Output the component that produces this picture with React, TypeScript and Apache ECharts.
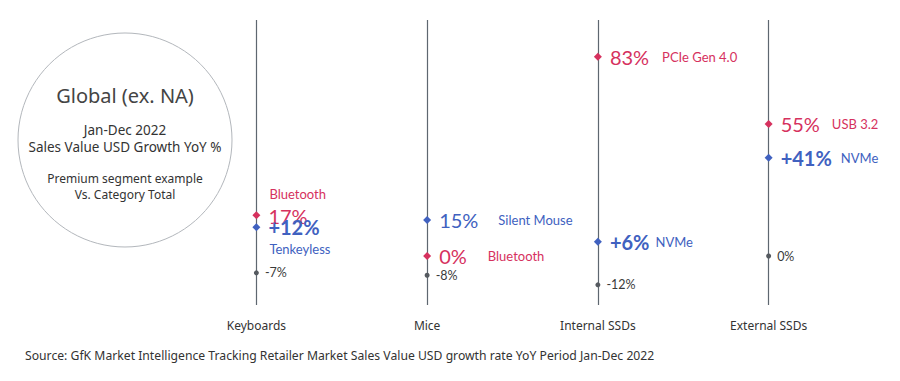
import React, { useEffect, useRef } from "react";
import * as echarts from "echarts";

const categories = ["Keyboards", "Mice", "Internal SSDs", "External SSDs"];
const premiumAValues = [17, 0, 83, 55];
const premiumANames = ["Bluetooth", "Bluetooth", "PCIe Gen 4.0", "USB 3.2"];
const premiumBValues = [12, 15, 6, 41];
const premiumBNames = ["Tenkeyless", "Silent Mouse", "NVMe", "NVMe"];
const premiumBSigned = [true, false, true, true];
const totalValues = [-7, -8, -12, 0];

const RED = "#d6315e";
const BLUE = "#4061c0";
const GRAY = "#555a60";
const FONT = "Lato, 'Noto Sans', sans-serif";

// label layout styling (not data)
const gapA = [0, 21, 13, 12];
const gapB = [0, 20, 6, 9];

export default function App() {
  const ref = useRef<HTMLDivElement>(null);
  useEffect(() => {
    const chart = echarts.init(ref.current!, null, { renderer: "svg" });

    const fmtPct = (v: number, signed: boolean) => (signed && v > 0 ? "+" : "") + v + "%";

    const redData = premiumAValues.map((v, i) => {
      const first = i === 0;
      return {
        value: [categories[i], v],
        label: {
          show: true,
          position: "right",
          distance: 8,
          offset: first ? [0, -10] : [0, 0],
          formatter: first
            ? `{n|${premiumANames[i]}}\n{v|${fmtPct(v, false)}}`
            : `{v|${fmtPct(v, false)}}{n|${premiumANames[i]}}`,
          rich: {
            v: { fontSize: 20, color: RED, fontFamily: FONT, lineHeight: 22 },
            n: {
              fontSize: 13,
              color: RED,
              fontFamily: FONT,
              lineHeight: 22,
              padding: first ? [0, 0, 0, 1] : [0, 0, 0, gapA[i]],
            },
          },
        },
      };
    });

    const blueData = premiumBValues.map((v, i) => {
      const first = i === 0;
      const bold = premiumBSigned[i];
      return {
        value: [categories[i], v],
        label: {
          show: true,
          position: "right",
          distance: 8,
          offset: first ? [0, 11] : [0, 0],
          formatter: first
            ? `{v|${fmtPct(v, bold)}}\n{n|${premiumBNames[i]}}`
            : `{v|${fmtPct(v, bold)}}{n|${premiumBNames[i]}}`,
          rich: {
            v: {
              fontSize: 20,
              color: BLUE,
              fontFamily: FONT,
              fontWeight: bold ? "bold" : "normal",
              lineHeight: 22,
            },
            n: {
              fontSize: 13,
              color: BLUE,
              fontFamily: FONT,
              lineHeight: 22,
              padding: first ? [0, 0, 0, 1] : [0, 0, 0, gapB[i]],
            },
          },
        },
      };
    });

    const totalData = totalValues.map((v, i) => ({ value: [categories[i], v] }));

    chart.setOption({
      animation: false,
      grid: { left: 171, right: 46, top: 20, bottom: 76 },
      xAxis: {
        type: "category",
        data: categories,
        boundaryGap: true,
        axisLine: { show: false },
        axisTick: { show: false },
        splitLine: { show: false },
        axisLabel: { margin: 14, fontSize: 12, color: "#333", fontFamily: "'Noto Sans', sans-serif" },
      },
      yAxis: {
        type: "value",
        min: -20.4,
        max: 98.35,
        show: false,
        splitLine: { show: false },
      },
      series: [
        {
          name: "Category Total",
          type: "scatter",
          symbol: "circle",
          symbolSize: 5,
          itemStyle: { color: GRAY, opacity: 1 },
          data: totalData,
          z: 3,
          label: {
            show: true,
            position: "right",
            distance: 6,
            formatter: (p: any) => p.value[1] + "%",
            fontSize: 12.5,
            color: "#3a3a3a",
            fontFamily: FONT,
          },
          markLine: {
            silent: true,
            symbol: ["none", "none"],
            label: { show: false },
            lineStyle: { color: "#5e6770", width: 1.2, type: "solid", opacity: 1 },
            data: categories.map((c) => ({ xAxis: c })),
            z: 1,
          },
        },
        {
          name: "Premium A",
          type: "scatter",
          symbol: "diamond",
          symbolSize: 8,
          itemStyle: { color: RED, opacity: 1 },
          data: redData,
          z: 4,
        },
        {
          name: "Premium B",
          type: "scatter",
          symbol: "diamond",
          symbolSize: 8,
          itemStyle: { color: BLUE, opacity: 1 },
          data: blueData,
          z: 5,
        },
      ],
      graphic: [
        {
          type: "circle",
          shape: { cx: 125, cy: 140, r: 107 },
          style: { fill: "none", stroke: "#b3b7bc", lineWidth: 1 },
          silent: true,
        },
        {
          type: "text",
          x: 125,
          y: 95,
          style: {
            text: "Global (ex. NA)",
            fontSize: 20,
            fill: "#444",
            fontFamily: "'Noto Sans', sans-serif",
            align: "center",
            verticalAlign: "middle",
          },
        },
        {
          type: "text",
          x: 125,
          y: 130,
          style: {
            text: "Jan-Dec 2022",
            fontSize: 13.5,
            fill: "#333",
            fontFamily: "'Noto Sans', sans-serif",
            align: "center",
            verticalAlign: "middle",
          },
        },
        {
          type: "text",
          x: 125,
          y: 147,
          style: {
            text: "Sales Value USD Growth YoY %",
            fontSize: 13.5,
            fill: "#333",
            fontFamily: "'Noto Sans', sans-serif",
            align: "center",
            verticalAlign: "middle",
          },
        },
        {
          type: "text",
          x: 125,
          y: 178,
          style: {
            text: "Premium segment example",
            fontSize: 12,
            fill: "#333",
            fontFamily: "'Noto Sans', sans-serif",
            align: "center",
            verticalAlign: "middle",
          },
        },
        {
          type: "text",
          x: 125,
          y: 194,
          style: {
            text: "Vs. Category Total",
            fontSize: 12,
            fill: "#333",
            fontFamily: "'Noto Sans', sans-serif",
            align: "center",
            verticalAlign: "middle",
          },
        },
        {
          type: "text",
          x: 25,
          y: 355,
          style: {
            text: "Source: GfK Market Intelligence Tracking Retailer Market Sales Value USD growth rate YoY Period Jan-Dec 2022",
            fontSize: 12.2,
            fill: "#333",
            fontFamily: "'Noto Sans', sans-serif",
            align: "left",
            verticalAlign: "middle",
          },
        },
      ],
    });
    return () => chart.dispose();
  }, []);
  return <div ref={ref} style={{ width: 900, height: 381, margin: -8 }} />;
}
